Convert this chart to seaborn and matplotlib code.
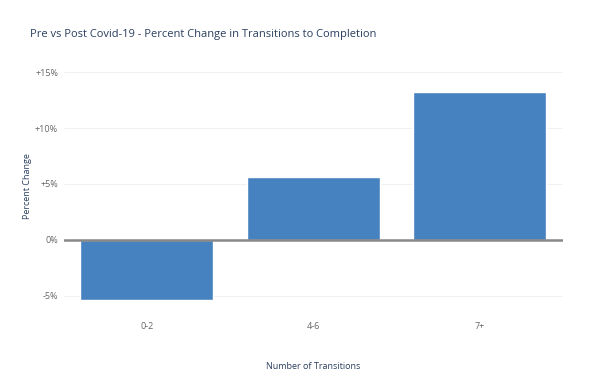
import matplotlib
matplotlib.use("Agg")
import matplotlib.pyplot as plt
import seaborn as sns
import pandas as pd

# Chart data
transitions = ["0-2", "4-6", "7+"]
pct_change = [-5.4, 5.6, 13.2]
y_ticks = [-5, 0, 5, 10, 15]
y_tick_labels = ["-5%", "0%", "+5%", "+10%", "+15%"]

df = pd.DataFrame({"Transitions": transitions, "Change": pct_change})

sns.set_style("white")
plt.rcParams["font.family"] = ["Open Sans", "DejaVu Sans"]

fig = plt.figure(figsize=(5.9, 3.88), dpi=100)
ax = fig.add_axes([0.108, 0.22, 0.846, 0.603])

sns.barplot(data=df, x="Transitions", y="Change", color="#4682c0",
            saturation=1, width=0.8, ax=ax, zorder=3)

ax.set_ylim(-5.6, 15.3)
ax.set_yticks(y_ticks)
ax.set_yticklabels(y_tick_labels)
ax.grid(axis="y", color="#f2f2f2", linewidth=0.8, zorder=0)
ax.axhline(0, color="#888888", linewidth=1.8, zorder=4)

for s in ax.spines.values():
    s.set_visible(False)
ax.tick_params(axis="both", length=0, labelsize=6.5, labelcolor="#666666")
ax.tick_params(axis="x", pad=14)
ax.tick_params(axis="y", pad=4)

ax.set_xlabel("Number of Transitions", fontsize=6.5, color="#2a3f5f", labelpad=22)
ax.set_ylabel("Percent Change", fontsize=6.5, color="#2a3f5f", labelpad=2)

fig.text(0.051, 0.91, "Pre vs Post Covid-19 - Percent Change in Transitions to Completion",
         fontsize=8.0, color="#2a3f5f", va="center", ha="left")

fig.savefig("out.png", dpi=100)
